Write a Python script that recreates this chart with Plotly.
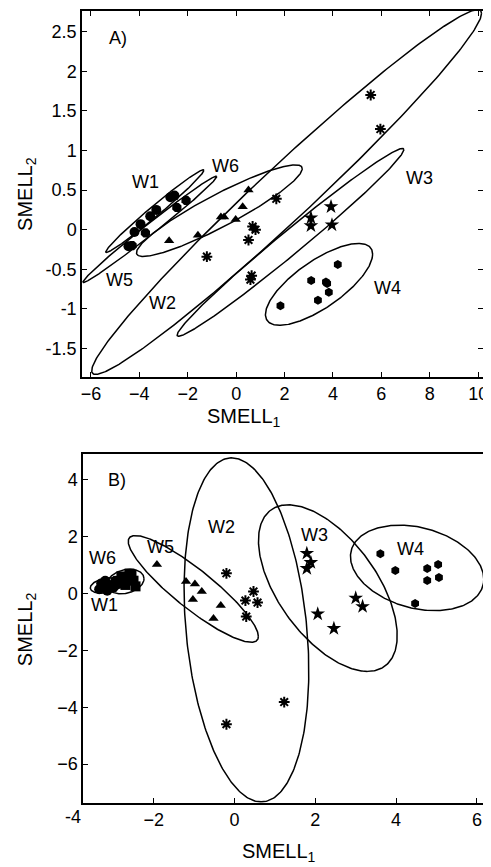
import numpy as np
import plotly.graph_objects as go

# ---------------- Panel A data ----------------
A_W1_x = [-4.45, -4.2, -3.95, -3.55, -3.3, -2.72, -2.55]
A_W1_y = [-0.21, -0.03, 0.07, 0.17, 0.25, 0.41, 0.43]
A_W6_x = [-4.3, -3.75, -2.45, -2.07]
A_W6_y = [-0.2, -0.04, 0.28, 0.37]
A_tri_x = [0.51, 0.27, -0.63, -0.5, -0.02, -1.58, -2.77]
A_tri_y = [0.50, 0.29, 0.16, 0.16, 0.13, -0.07, -0.14]
A_ast_x = [1.66, 0.68, 0.80, 0.51, -1.21, 0.64, 0.59, 5.56, 5.96]
A_ast_y = [0.39, 0.04, 0.0, -0.13, -0.34, -0.58, -0.63, 1.70, 1.27]
A_star_x = [3.92, 3.09, 3.09, 3.96]
A_star_y = [0.29, 0.15, 0.05, 0.06]
A_hex_x = [4.20, 3.10, 3.71, 3.76, 3.83, 3.38, 1.83]
A_hex_y = [-0.44, -0.64, -0.66, -0.68, -0.79, -0.89, -0.96]

# ellipses: center, x-extreme semi-diameter, vertical half-thickness at center
A_ell_names = ["W2", "W3", "W4", "W5m", "W1", "W6"]
A_ell_cx = [2.085, 2.245, 3.425, -0.695, -3.36, -3.565]
A_ell_cy = [0.475, -0.16, -0.69, 0.24, 0.235, 0.005]
A_ell_ux = [8.055, 4.685, 2.215, 3.425, 2.03, 2.765]
A_ell_uy = [2.255, 1.17, 0.38, 0.53, 0.515, 0.665]
A_ell_vx = [0, 0, 0, 0, 0, 0]
A_ell_vy = [0.46, 0.19, 0.35, 0.23, 0.085, 0.085]

A_lab_text = ["A)", "W1", "W6", "W5", "W2", "W3", "W4"]
A_lab_x = [-4.9, -3.76, -0.43, -4.82, -3.05, 7.57, 6.25]
A_lab_y = [2.42, 0.60, 0.81, -0.63, -0.92, 0.65, -0.74]

A_xticks = [-6, -4, -2, 0, 2, 4, 6, 8, 10]
A_yticks = [-1.5, -1, -0.5, 0, 0.5, 1, 1.5, 2, 2.5]
A_ytick_text = ["-1.5", "-1", "-0.5", "0", "0.5", "1", "1.5", "2", "2.5"]

# ---------------- Panel B data ----------------
B_W1_x = [-3.35, -3.3, -3.2, -3.1, -3.0, -3.15, -2.95, -3.25]
B_W1_y = [0.15, 0.35, 0.45, 0.3, 0.2, 0.1, 0.45, 0.25]
B_W6_x = [-2.8, -2.7, -2.6, -2.5, -2.45, -2.7, -2.85, -2.55]
B_W6_y = [0.6, 0.3, 0.7, 0.45, 0.25, 0.5, 0.35, 0.65]
B_tri_x = [-1.92, -1.20, -0.98, -0.81, -1.03, -0.34, -0.52]
B_tri_y = [1.02, 0.42, 0.33, 0.07, -0.21, -0.42, -0.88]
B_ast_x = [-0.20, 0.47, 0.27, 0.57, 0.29, 1.23, -0.20]
B_ast_y = [0.71, 0.07, -0.25, -0.32, -0.81, -3.82, -4.60]
B_star_x = [1.79, 1.89, 1.79, 2.06, 3.00, 3.17, 2.46]
B_star_y = [1.41, 1.09, 0.88, -0.72, -0.16, -0.46, -1.23]
B_hex_x = [3.61, 3.98, 4.77, 5.04, 4.77, 5.06, 4.47]
B_hex_y = [1.40, 0.81, 0.88, 1.02, 0.46, 0.56, -0.35]

B_ell_names = ["W2", "W3", "W4", "W5", "W1", "W6"]
B_ell_cx = [0.295, 2.31, 4.52, -1.02, -3.17, -2.70]
B_ell_cy = [-1.28, 0.19, 0.90, 0.16, 0.28, 0.42]
B_ell_ux = [0.365, 0.98, 1.65, 1.61, 0.40, 0.46]
B_ell_uy = [-6.05, -2.93, -0.40, -1.67, 0.08, 0.10]
B_ell_vx = [1.5, 1.41, 0, 0, 0, 0]
B_ell_vy = [0, 0, 1.45, 0.86, 0.26, 0.42]

B_lab_text = ["B)", "W6", "W1", "W5", "W2", "W3", "W4"]
B_lab_x = [-2.9, -3.27, -3.22, -1.82, -0.32, 1.97, 4.35]
B_lab_y = [4.0, 1.26, -0.39, 1.65, 2.35, 2.07, 1.58]

B_xticks = [-2, 0, 2, 4, 6]
B_extra_xtick = "-4"
B_yticks = [-6, -4, -2, 0, 2, 4]

FONT = "Liberation Sans, Arial, sans-serif"
fig = go.Figure()

t = np.linspace(0, 2 * np.pi, 300)


def add_ellipses(cx, cy, ux, uy, vx, vy, xa, ya):
    for i in range(len(cx)):
        ex = cx[i] + ux[i] * np.cos(t) + vx[i] * np.sin(t)
        ey = cy[i] + uy[i] * np.cos(t) + vy[i] * np.sin(t)
        fig.add_trace(go.Scatter(x=ex, y=ey, mode="lines", xaxis=xa, yaxis=ya,
                                 line=dict(color="black", width=1.5),
                                 hoverinfo="skip", showlegend=False))


def add_pts(x, y, symbol, size, xa, ya, open_=False):
    if open_:
        marker = dict(symbol=symbol, size=size, color="black",
                      line=dict(color="black", width=2))
    else:
        marker = dict(symbol=symbol, size=size, color="black",
                      line=dict(width=0))
    fig.add_trace(go.Scatter(x=x, y=y, mode="markers", xaxis=xa, yaxis=ya,
                             marker=marker, showlegend=False))


add_ellipses(A_ell_cx, A_ell_cy, A_ell_ux, A_ell_uy, A_ell_vx, A_ell_vy, "x", "y")
add_pts(A_W1_x, A_W1_y, "circle", 10, "x", "y")
add_pts(A_W6_x, A_W6_y, "octagon", 10, "x", "y")
add_pts(A_tri_x, A_tri_y, "triangle-up", 9, "x", "y")
add_pts(A_ast_x, A_ast_y, "asterisk-open", 9, "x", "y", open_=True)
add_pts(A_ast_x, A_ast_y, "circle", 5, "x", "y")
add_pts(A_star_x, A_star_y, "star", 11, "x", "y")
add_pts(A_hex_x, A_hex_y, "hexagon", 9, "x", "y")

add_ellipses(B_ell_cx, B_ell_cy, B_ell_ux, B_ell_uy, B_ell_vx, B_ell_vy, "x2", "y2")
add_pts(B_W1_x, B_W1_y, "circle", 10, "x2", "y2")
add_pts(B_W6_x, B_W6_y, "square", 10, "x2", "y2")
add_pts(B_tri_x, B_tri_y, "triangle-up", 9, "x2", "y2")
add_pts(B_ast_x, B_ast_y, "asterisk-open", 9, "x2", "y2", open_=True)
add_pts(B_ast_x, B_ast_y, "circle", 5, "x2", "y2")
add_pts(B_star_x, B_star_y, "star", 11, "x2", "y2")
add_pts(B_hex_x, B_hex_y, "hexagon", 9, "x2", "y2")

annotations = []
for txt, x, y in zip(A_lab_text, A_lab_x, A_lab_y):
    annotations.append(dict(text=txt, x=x, y=y, xref="x", yref="y", showarrow=False,
                            font=dict(size=18, color="black", family=FONT)))
for txt, x, y in zip(B_lab_text, B_lab_x, B_lab_y):
    annotations.append(dict(text=txt, x=x, y=y, xref="x2", yref="y2", showarrow=False,
                            font=dict(size=18, color="black", family=FONT)))

tick_font = dict(size=18, color="black", family=FONT)
# tick label "-4" drawn just left of the panel B frame
annotations.append(dict(text=B_extra_xtick, x=-0.022, y=0, xref="paper", yref="paper",
                        xanchor="center", yanchor="top", yshift=-2, showarrow=False,
                        font=tick_font))

title_font = dict(size=20, color="black", family=FONT)
annotations += [
    dict(text="SMELL<sub>1</sub>", x=0.401, y=0.487, xref="paper", yref="paper",
         showarrow=False, font=title_font, xanchor="center", yanchor="middle"),
    dict(text="SMELL<sub>2</sub>", x=-0.138, y=0.7695, xref="paper", yref="paper",
         showarrow=False, font=title_font, textangle=-90, xanchor="center", yanchor="middle"),
    dict(text="SMELL<sub>1</sub>", x=0.488, y=-0.062, xref="paper", yref="paper",
         showarrow=False, font=title_font, xanchor="center", yanchor="middle"),
    dict(text="SMELL<sub>2</sub>", x=-0.138, y=0.22, xref="paper", yref="paper",
         showarrow=False, font=title_font, textangle=-90, xanchor="center", yanchor="middle"),
]

common = dict(showgrid=False, zeroline=False, showline=True, linecolor="black",
              linewidth=1.5, ticks="inside", ticklen=5, tickwidth=1, tickcolor="black",
              tickfont=tick_font, ticklabeloverflow="allow")

fig.update_layout(
    width=483, height=859,
    margin=dict(l=74, r=3, t=1, b=64),
    paper_bgcolor="white", plot_bgcolor="white",
    font=dict(family=FONT, color="black"),
    showlegend=False,
    xaxis=dict(domain=[0, 0.995], anchor="y", range=[-6.37, 10.2],
               tickvals=A_xticks, mirror="ticks", **common),
    yaxis=dict(domain=[0.5378, 1.0], anchor="x", range=[-1.86, 2.76],
               tickvals=A_yticks, ticktext=A_ytick_text, mirror="ticks", **common),
    xaxis2=dict(domain=[0.0025, 1.0], anchor="y2", range=[-3.75, 6.2],
                tickvals=B_xticks, mirror=True, **common),
    yaxis2=dict(domain=[0, 0.4408], anchor="x2", range=[-7.37, 4.91],
                tickvals=B_yticks, mirror=True, **common),
    annotations=annotations,
)

fig.write_html("out.html")
